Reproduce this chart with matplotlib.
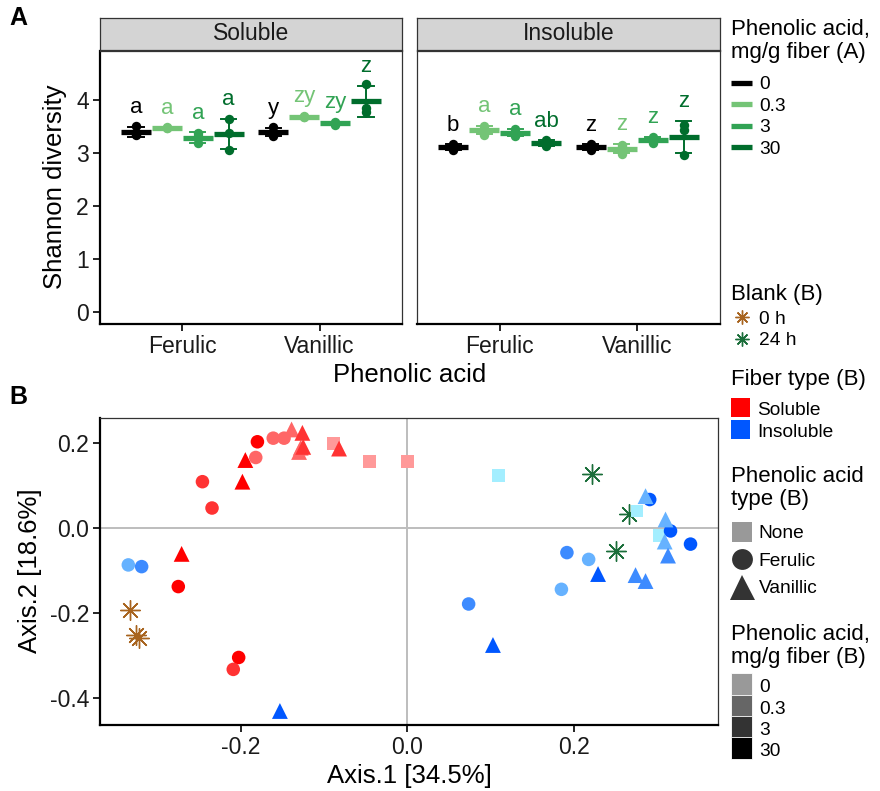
import matplotlib
matplotlib.use('Agg')
import matplotlib.pyplot as plt
from matplotlib.lines import Line2D
from matplotlib.patches import Patch, Rectangle
from matplotlib.legend_handler import HandlerPatch
from matplotlib.ticker import FormatStrFormatter
import numpy as np

plt.rcParams['font.family'] = ['Liberation Sans', 'DejaVu Sans']
plt.rcParams['axes.unicode_minus'] = False

# ---- panel A data: Shannon diversity, 3 replicates per concentration ----
acids = ['Ferulic', 'Vanillic']
conc_labels = ['0', '0.3', '3', '30']

sol_fer = [[3.50, 3.33, 3.36], [3.48, 3.46, 3.47], [3.37, 3.18, 3.31], [3.63, 3.38, 3.05]]
sol_van = [[3.48, 3.32, 3.37], [3.69, 3.67, 3.68], [3.58, 3.53, 3.56], [4.30, 3.84, 3.77]]
ins_fer = [[3.16, 3.05, 3.10], [3.50, 3.34, 3.44], [3.45, 3.31, 3.38], [3.24, 3.13, 3.17]]
ins_van = [[3.16, 3.06, 3.11], [3.15, 2.98, 3.10], [3.30, 3.19, 3.26], [3.52, 3.43, 2.96]]

sol_fer_letters = ['a', 'a', 'a', 'a']
sol_van_letters = ['y', 'zy', 'zy', 'z']
ins_fer_letters = ['b', 'a', 'a', 'ab']
ins_van_letters = ['z', 'z', 'z', 'z']

# ---- panel B data: PCoA coordinates ----
# conc index: 0 -> 0, 1 -> 0.3, 2 -> 3, 3 -> 30
sol_none_x = [-0.089, -0.045, 0.000]
sol_none_y = [0.200, 0.157, 0.157]
sol_none_c = [0, 0, 0]

sol_fer_x = [-0.182, -0.161, -0.148, -0.246, -0.2345, -0.209, -0.275, -0.2025, -0.180]
sol_fer_y = [0.167, 0.2125, 0.2125, 0.110, 0.048, -0.332, -0.137, -0.304, 0.204]
sol_fer_c = [1, 1, 1, 2, 2, 2, 3, 3, 3]

sol_van_x = [-0.139, -0.130, -0.128, -0.126, -0.125, -0.082, -0.271, -0.1945, -0.198]
sol_van_y = [0.233, 0.180, 0.190, 0.225, 0.192, 0.188, -0.060, 0.161, 0.110]
sol_van_c = [1, 1, 1, 2, 2, 2, 3, 3, 3]

ins_none_x = [0.1096, 0.2757, 0.303]
ins_none_y = [0.124, 0.041, -0.016]
ins_none_c = [0, 0, 0]

ins_fer_x = [-0.335, 0.2177, 0.185, -0.319, 0.1916, 0.0736, 0.291, 0.316, 0.340]
ins_fer_y = [-0.086, -0.073, -0.1435, -0.090, -0.057, -0.178, 0.068, -0.006, -0.037]
ins_fer_c = [1, 1, 1, 2, 2, 2, 3, 3, 3]

ins_van_x = [0.286, 0.310, 0.309, 0.313, 0.274, 0.286, 0.229, 0.1028, -0.153]
ins_van_y = [0.076, 0.021, -0.031, -0.064, -0.110, -0.124, -0.1075, -0.2746, -0.430]
ins_van_c = [1, 1, 1, 2, 2, 2, 3, 3, 3]

blank0_x = [-0.333, -0.326, -0.322]
blank0_y = [-0.192, -0.252, -0.258]
blank24_x = [0.222, 0.266, 0.250]
blank24_y = [0.128, 0.034, -0.053]

green_cols = ['#000000', '#74c476', '#31a354', '#006d2c']
red_cols = ['#ff9999', '#ff6666', '#ff3333', '#ff0000']
blue_cols = ['#a3eeff', '#66b2ff', '#3d8bff', '#0057ff']
gray_cols = ['#999999', '#666666', '#333333', '#000000']
brown = '#a8641f'
dkgreen = '#1b6e3a'

W, H = 880, 791


def box(x0, y0, x1, y1):
    return [x0 / W, 1 - y1 / H, (x1 - x0) / W, (y1 - y0) / H]


def style_axes(ax, left_thick=True):
    ax.spines['bottom'].set_linewidth(1.6)
    ax.spines['bottom'].set_color('black')
    if left_thick:
        ax.spines['left'].set_linewidth(1.6)
        ax.spines['left'].set_color('black')
    else:
        ax.spines['left'].set_linewidth(0.9)
        ax.spines['left'].set_color('#333333')
    for s in ['top', 'right']:
        ax.spines[s].set_linewidth(0.9)
        ax.spines[s].set_color('#333333')
    ax.tick_params(length=5, width=1.2, labelsize=16.5, pad=3, labelcolor='#1a1a1a')


def draw_facet(ax, fer, van, fer_letters, van_letters):
    for ai, (groups, letters) in enumerate([(fer, fer_letters), (van, van_letters)]):
        for j in range(4):
            reps = np.array(groups[j])
            m = reps.mean()
            sd = reps.std(ddof=1)
            x = ai + 1 + (j - 1.5) * 0.225
            c = green_cols[j]
            ax.plot([x, x], [m - sd, m + sd], color=c, lw=1.4, zorder=2)
            for yy in (m - sd, m + sd):
                ax.plot([x - 0.055, x + 0.055], [yy, yy], color=c, lw=1.4, zorder=2)
            ax.plot([x - 0.11, x + 0.11], [m, m], color=c, lw=3.8,
                    solid_capstyle='butt', zorder=3)
            ax.scatter([x] * len(reps), reps, s=46, color=c, zorder=4, linewidths=0)
            ax.text(x, m + sd + 0.26, letters[j], color=c, ha='center',
                    va='baseline', fontsize=16)
    ax.set_xlim(0.4, 2.6)
    ax.set_ylim(-0.23, 4.92)
    ax.set_xticks([1, 2])
    ax.set_xticklabels(acids)
    ax.set_yticks([0, 1, 2, 3, 4])


fig = plt.figure(figsize=(8.8, 7.91), dpi=100)

# ---- Panel A ----
axL = fig.add_axes(box(100, 51, 402, 324))
axR = fig.add_axes(box(417, 51, 720, 324))
draw_facet(axL, sol_fer, sol_van, sol_fer_letters, sol_van_letters)
draw_facet(axR, ins_fer, ins_van, ins_fer_letters, ins_van_letters)
style_axes(axL)
style_axes(axR, left_thick=False)
axR.tick_params(axis='y', left=False, labelleft=False)

for (x0, x1), name in [((100, 402), 'Soluble'), ((417, 720), 'Insoluble')]:
    st = fig.add_axes(box(x0, 18, x1, 50))
    st.set_facecolor('#d4d4d4')
    st.set_xticks([])
    st.set_yticks([])
    for s in st.spines.values():
        s.set_linewidth(0.9)
        s.set_color('#333333')
    st.text(0.5, 0.5, name, ha='center', va='center', fontsize=16.5,
            color='#1a1a1a', transform=st.transAxes)

fig.text(55 / W, 1 - 187 / H, 'Shannon diversity', rotation=90, ha='center',
         va='center', fontsize=18.5)
fig.text(410 / W, 1 - 375 / H, 'Phenolic acid', ha='center', va='center', fontsize=18.5)

# ---- Panel B ----
axB = fig.add_axes(box(100, 418, 718, 725))
axB.axhline(0, color='#bdbdbd', lw=1.4, zorder=0)
axB.axvline(0, color='#bdbdbd', lw=1.4, zorder=0)

axB.scatter(blank0_x, blank0_y, marker=(8, 2, 0), s=200, color=brown, linewidths=1.0, zorder=2)
axB.scatter(blank24_x, blank24_y, marker=(8, 2, 0), s=200, color=dkgreen, linewidths=1.0, zorder=2)

groups_B = [
    (sol_none_x, sol_none_y, sol_none_c, red_cols, 's', 85),
    (ins_none_x, ins_none_y, ins_none_c, blue_cols, 's', 85),
    (sol_fer_x, sol_fer_y, sol_fer_c, red_cols, 'o', 95),
    (ins_fer_x, ins_fer_y, ins_fer_c, blue_cols, 'o', 95),
    (sol_van_x, sol_van_y, sol_van_c, red_cols, '^', 130),
    (ins_van_x, ins_van_y, ins_van_c, blue_cols, '^', 130),
]
for gx, gy, gc, cols, mk, sz in groups_B:
    axB.scatter(gx, gy, marker=mk, s=sz, c=[cols[i] for i in gc], linewidths=0, zorder=3)

axB.set_xlim(-0.369, 0.373)
axB.set_ylim(-0.463, 0.26)
axB.set_xticks([-0.2, 0.0, 0.2])
axB.set_yticks([-0.4, -0.2, 0.0, 0.2])
axB.xaxis.set_major_formatter(FormatStrFormatter('%.1f'))
axB.yaxis.set_major_formatter(FormatStrFormatter('%.1f'))
style_axes(axB)

fig.text(30 / W, 1 - 571 / H, 'Axis.2 [18.6%]', rotation=90, ha='center',
         va='center', fontsize=18.5)
fig.text(409 / W, 1 - 776 / H, 'Axis.1 [34.5%]', ha='center', va='center', fontsize=18.5)

fig.text(18 / W, 1 - 18 / H, 'A', ha='center', va='center', fontsize=18, fontweight='bold')
fig.text(18 / W, 1 - 397 / H, 'B', ha='center', va='center', fontsize=18, fontweight='bold')


# ---- legends ----
def full_rect(legend, orig_handle, xdescent, ydescent, width, height, fontsize):
    # fill the whole key area, like ggplot's legend keys
    return Rectangle((-xdescent, -ydescent), width, height + ydescent)


common = dict(loc='upper left', frameon=False, fontsize=13.8, title_fontsize=16,
              alignment='left', borderpad=0, borderaxespad=0, handletextpad=0.35)


def add_legend(handles, labels, title, top, gap_px, **kw):
    opts = dict(common)
    opts.update(kw)
    leg = fig.legend(handles=handles, labels=labels, title=title,
                     bbox_to_anchor=(731 / W, 1 - top / H), **opts)
    leg.get_title().set_linespacing(1.1)
    # space between title and first entry (points)
    leg._legend_box.sep = gap_px * 0.72
    return leg


add_legend([Line2D([0], [0], color=c, lw=3.8, solid_capstyle='butt') for c in green_cols],
           conc_labels, 'Phenolic acid,\nmg/g fiber (A)', 19, 13.2,
           handlelength=1.1, labelspacing=0.22)

add_legend([Line2D([], [], marker=(8, 2, 0), ls='none', color=brown, markersize=10, mew=1.0),
            Line2D([], [], marker=(8, 2, 0), ls='none', color=dkgreen, markersize=10, mew=1.0)],
           ['0 h', '24 h'], 'Blank (B)', 284, 5.6, handlelength=1.1, labelspacing=0.2)

add_legend([Patch(facecolor='#ff0000', edgecolor='none'),
            Patch(facecolor='#0057ff', edgecolor='none')],
           ['Soluble', 'Insoluble'], 'Fiber type (B)', 369, 10.3,
           handlelength=1.0, handleheight=1.0, labelspacing=0.12,
           handler_map={Patch: HandlerPatch(patch_func=full_rect)})

add_legend([Line2D([], [], marker='s', ls='none', color='#999999', markersize=14, mew=0),
            Line2D([], [], marker='o', ls='none', color='#333333', markersize=15, mew=0),
            Line2D([], [], marker='^', ls='none', color='#333333', markersize=18, mew=0)],
           ['None', 'Ferulic', 'Vanillic'], 'Phenolic acid\ntype (B)', 466, 15.2,
           handlelength=1.1, labelspacing=0.53)

add_legend([Patch(facecolor=c, edgecolor='white', lw=0.6) for c in gray_cols],
           conc_labels, 'Phenolic acid,\nmg/g fiber (B)', 624, 8.8,
           handlelength=1.1, handleheight=1.16, labelspacing=0.06,
           handler_map={Patch: HandlerPatch(patch_func=full_rect)})

fig.savefig('out.png', dpi=100)
